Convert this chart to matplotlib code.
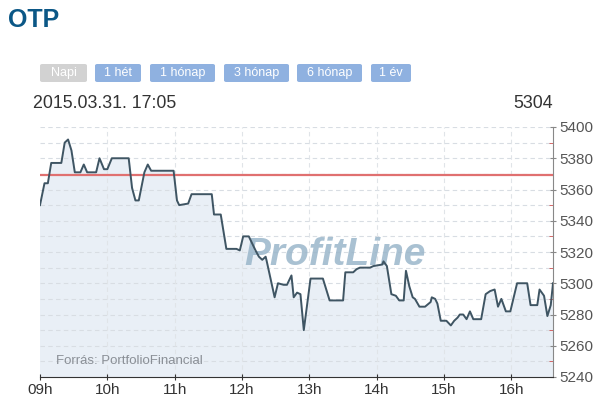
import matplotlib
matplotlib.use("Agg")
import matplotlib.pyplot as plt
from matplotlib.patches import FancyBboxPatch
from matplotlib.ticker import FixedLocator

plt.rcParams["font.family"] = ["Liberation Sans", "DejaVu Sans"]

# minutes after 09:00
times = [0, 4, 7, 10, 19, 22, 25, 28, 31, 36, 39, 42, 50, 53, 57, 60, 64, 79, 82, 85, 88,
         93, 96, 99, 119, 122, 124, 132, 135, 153, 155, 161, 166, 171, 175, 178, 181, 186,
         192, 195, 198, 201, 202, 209, 212, 217, 220, 224, 226, 229, 232, 235, 241, 252,
         258, 270, 272, 279, 282, 285, 294, 297, 305, 306, 309, 313, 317, 320, 324, 326,
         329, 332, 334, 338, 343, 348, 349, 352, 354, 357, 362, 366, 369, 372, 374, 377,
         380, 383, 386, 393, 397, 401, 405, 408, 411, 415, 419, 425, 434, 437, 443, 445,
         449, 452, 455, 457]
prices = [5350, 5364, 5364, 5377, 5377, 5390, 5392, 5385, 5371, 5371, 5376, 5371, 5371, 5380,
          5373, 5373, 5380, 5380, 5361, 5353, 5353, 5371, 5376, 5372, 5372, 5353, 5350, 5351,
          5357, 5357, 5344, 5344, 5322, 5322, 5322, 5321, 5330, 5330, 5321, 5317, 5315, 5317,
          5314, 5291, 5300, 5299, 5299, 5305, 5291, 5294, 5293, 5270, 5303, 5303, 5289, 5289,
          5307, 5307, 5309, 5310, 5310, 5311, 5312, 5314, 5311, 5293, 5292, 5289, 5289, 5308,
          5298, 5291, 5290, 5285, 5285, 5288, 5291, 5290, 5287, 5276, 5276, 5273, 5276, 5278,
          5280, 5280, 5277, 5282, 5277, 5277, 5293, 5295, 5296, 5285, 5290, 5282, 5282, 5300,
          5300, 5286, 5286, 5296, 5292, 5279, 5286, 5300]
prev_close = 5369
hour_labels = ["09h", "10h", "11h", "12h", "13h", "14h", "15h", "16h"]
y_ticks = [5240, 5260, 5280, 5300, 5320, 5340, 5360, 5380, 5400]
buttons = ["Napi", "1 hét", "1 hónap", "3 hónap", "6 hónap", "1 év"]
title = "OTP"
timestamp = "2015.03.31. 17:05"
last_price = "5304"
source = "Forrás: PortfolioFinancial"

W, H = 601, 412
fig = plt.figure(figsize=(W / 100, H / 100), dpi=100)
fig.patch.set_facecolor("white")

def fx(px):
    return px / W

def fy(py):
    return 1 - py / H

ax = fig.add_axes([fx(40), fy(377), fx(553) - fx(40), fy(127) - fy(377)])
ax.set_facecolor("white")
ax.set_xlim(0, 457)
ax.set_ylim(5240, 5400)

ax.fill_between(times, prices, 5240, color="#e9eff6", zorder=1)
ax.grid(False)
for v in range(5250, 5401, 10):
    ax.axhline(v, color="#d8dde3", lw=0.8, ls=(0, (4, 3)), zorder=1.5)
for h in range(1, 8):
    ax.axvline(h * 60, color="#e0e4e8", lw=0.8, ls=(0, (4, 3)), zorder=1.5)

ax.text(263, 5318, "ProfitLine", fontsize=28, fontweight="bold", style="italic",
        color="#9ab6ca", alpha=0.85, ha="center", va="center", zorder=2)

ax.axhline(prev_close, color="#e07070", lw=1.6, zorder=3)
ax.plot(times, prices, color="#3f5563", lw=1.4, zorder=4)

ax.text(14, 5250, source, fontsize=9.5, color="#8a8f96", ha="left", va="center", zorder=5)

for s in ["left", "top"]:
    ax.spines[s].set_visible(False)
ax.spines["right"].set_color("#888888")
ax.spines["bottom"].set_color("#333333")
ax.yaxis.tick_right()
ax.yaxis.set_major_locator(FixedLocator(y_ticks))
ax.yaxis.set_minor_locator(FixedLocator([5250, 5270, 5290, 5310, 5330, 5350, 5370, 5390]))
ax.tick_params(axis="y", which="major", length=5, color="#888888", labelsize=11,
               labelcolor="#555555", direction="inout", pad=2)
ax.tick_params(axis="y", which="minor", length=3, color="#d05050", direction="in")
ax.set_xticks([h * 60 for h in range(len(hour_labels))])
ax.set_xticklabels(hour_labels)
ax.tick_params(axis="x", length=5, color="#333333", labelsize=11, labelcolor="#333333",
               direction="inout", pad=2)

fig.text(fx(8), fy(20), title, fontsize=18, fontweight="bold", color="#0b5786",
         ha="left", va="center")

btn_x = [(40, 87), (95, 141), (150, 215), (224, 289), (297, 362), (371, 411)]
for i, (lbl, (x0, x1)) in enumerate(zip(buttons, btn_x)):
    col = "#d2d2d2" if i == 0 else "#8fb1e0"
    p = FancyBboxPatch((fx(x0), fy(82)), fx(x1) - fx(x0), fy(64) - fy(82),
                       boxstyle="round,pad=0,rounding_size=0.004",
                       transform=fig.transFigure, facecolor=col, edgecolor="none")
    fig.patches.append(p)
    fig.text(fx((x0 + x1) / 2), fy(73), lbl, fontsize=9, color="white",
             ha="center", va="center")

fig.text(fx(33), fy(104), timestamp, fontsize=12.8, color="#333333", ha="left", va="center")
fig.text(fx(553), fy(104), last_price, fontsize=12.8, color="#333333", ha="right", va="center")

fig.savefig("out.png", dpi=100)
